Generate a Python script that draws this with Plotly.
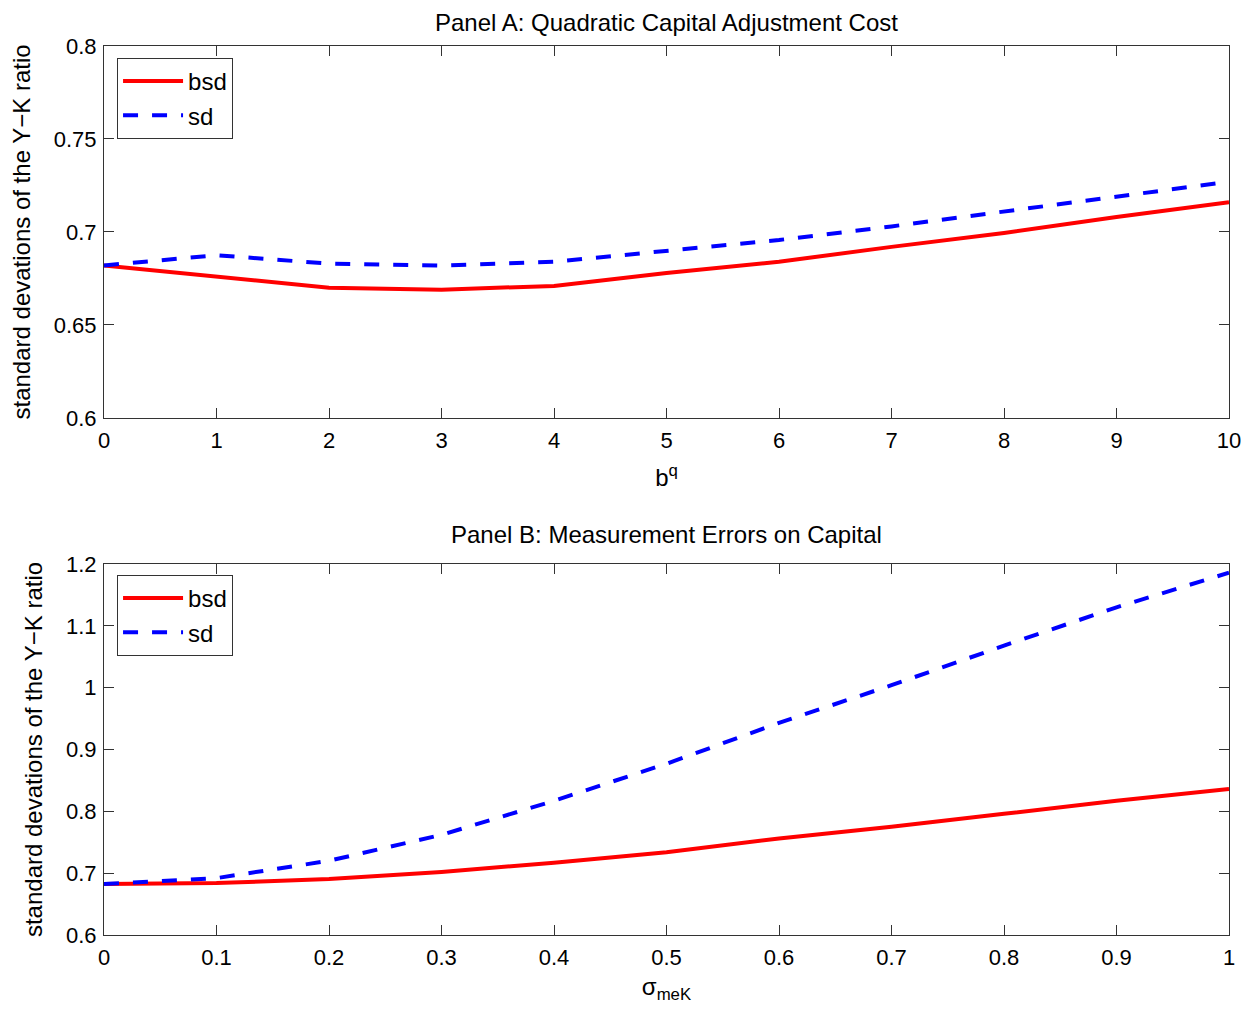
import plotly.graph_objects as go
from plotly.subplots import make_subplots

# Panel A data
bq = [0, 1, 2, 3, 4, 5, 6, 7, 8, 9, 10]
a_bsd = [0.682, 0.676, 0.670, 0.669, 0.671, 0.678, 0.684, 0.692, 0.6995, 0.708, 0.716]
a_sd = [0.682, 0.6875, 0.683, 0.682, 0.684, 0.690, 0.6957, 0.703, 0.711, 0.719, 0.727]

# Panel B data
sigma = [0, 0.1, 0.2, 0.3, 0.4, 0.5, 0.6, 0.7, 0.8, 0.9, 1.0]
b_bsd = [0.6825, 0.684, 0.6905, 0.702, 0.717, 0.734, 0.756, 0.775, 0.796, 0.817, 0.836]
b_sd = [0.6825, 0.692, 0.720, 0.762, 0.817, 0.877, 0.943, 1.004, 1.068, 1.130, 1.186]

a_yticks = [0.6, 0.65, 0.7, 0.75, 0.8]
a_ylabels = ["0.6", "0.65", "0.7", "0.75", "0.8"]
b_xticks = [0, 0.1, 0.2, 0.3, 0.4, 0.5, 0.6, 0.7, 0.8, 0.9, 1.0]
b_xlabels = ["0", "0.1", "0.2", "0.3", "0.4", "0.5", "0.6", "0.7", "0.8", "0.9", "1"]
b_yticks = [0.6, 0.7, 0.8, 0.9, 1.0, 1.1, 1.2]
b_ylabels = ["0.6", "0.7", "0.8", "0.9", "1", "1.1", "1.2"]

FONT = "Liberation Sans, Arial, Helvetica, sans-serif"
RED = "#ff0000"
BLUE = "#0000ff"
DASH = "15px,14px"
TICK = 22
TXT = 24

fig = make_subplots(rows=2, cols=1, vertical_spacing=0.0)

fig.add_trace(go.Scatter(x=bq, y=a_bsd, mode="lines", name="bsd",
                         line=dict(color=RED, width=4), legend="legend"), row=1, col=1)
fig.add_trace(go.Scatter(x=bq, y=a_sd, mode="lines", name="sd",
                         line=dict(color=BLUE, width=4, dash=DASH), legend="legend"), row=1, col=1)
fig.add_trace(go.Scatter(x=sigma, y=b_bsd, mode="lines", name="bsd",
                         line=dict(color=RED, width=4), legend="legend2"), row=2, col=1)
fig.add_trace(go.Scatter(x=sigma, y=b_sd, mode="lines", name="sd",
                         line=dict(color=BLUE, width=4, dash=DASH), legend="legend2"), row=2, col=1)

axis_common = dict(showline=True, linecolor="#333333", linewidth=1, mirror="allticks",
                   ticks="inside", ticklen=10, tickcolor="#333333", showgrid=False,
                   zeroline=False, tickfont=dict(size=TICK, color="black", family=FONT))

fig.update_xaxes(ticklabelstandoff=3, **axis_common)
fig.update_yaxes(ticklabelstandoff=2, **axis_common)

title_font = dict(size=TXT, family=FONT, color="black")

fig.update_xaxes(range=[0, 10], tickvals=bq, ticktext=[str(v) for v in bq],
                 domain=[0, 1], row=1, col=1,
                 title=dict(text="b<sup>q</sup>", font=title_font, standoff=16))
fig.update_yaxes(range=[0.6, 0.8], tickvals=a_yticks, ticktext=a_ylabels,
                 domain=[0.5816, 1.0], row=1, col=1,
                 title=dict(text="standard devations of the Y\u2212K ratio",
                            font=title_font, standoff=16))
fig.update_xaxes(range=[0, 1], tickvals=b_xticks, ticktext=b_xlabels,
                 domain=[0, 1], row=2, col=1,
                 title=dict(text="\u03c3<sub>meK</sub>", font=title_font, standoff=8))
fig.update_yaxes(range=[0.6, 1.2], tickvals=b_yticks, ticktext=b_ylabels,
                 domain=[0.0, 0.4173], row=2, col=1,
                 title=dict(text="standard devations of the Y\u2212K ratio",
                            font=title_font, standoff=16))

legend_common = dict(bordercolor="#333333", borderwidth=1, bgcolor="white",
                     font=dict(size=TXT, family=FONT, color="black"),
                     xanchor="left", yanchor="top", tracegroupgap=0, itemwidth=60)

fig.update_layout(
    width=1246, height=1004,
    margin=dict(l=96, r=25, t=38, b=77),
    paper_bgcolor="white", plot_bgcolor="white",
    font=dict(family=FONT, color="black"),
    showlegend=True,
    legend=dict(x=0.0116, y=0.9865, **legend_common),
    legend2=dict(x=0.0116, y=0.405, **legend_common),
    annotations=[
        dict(text="Panel A: Quadratic Capital Adjustment Cost", xref="paper", yref="paper",
             x=0.5, y=1.0, yanchor="bottom", yshift=8, showarrow=False,
             font=title_font),
        dict(text="Panel B: Measurement Errors on Capital", xref="paper", yref="paper",
             x=0.5, y=0.4173, yanchor="bottom", yshift=14, showarrow=False,
             font=title_font),
    ],
)

fig.write_html("out.html")
